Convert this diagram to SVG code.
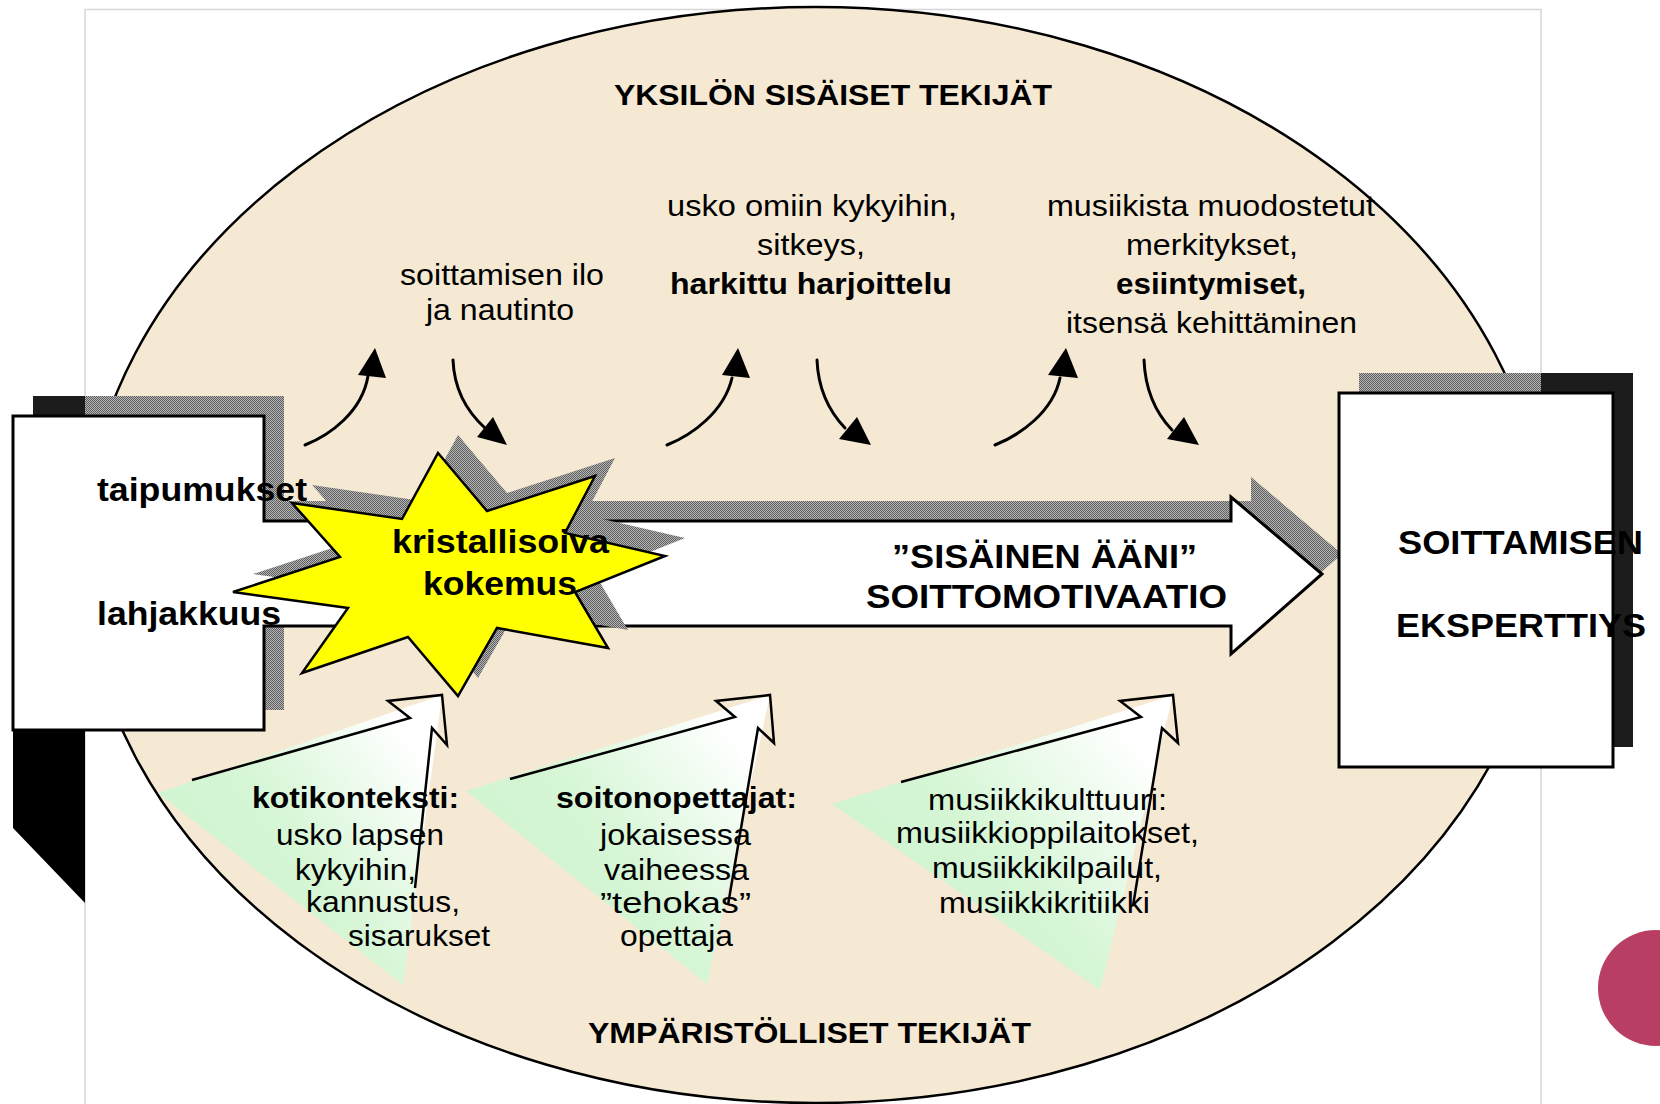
<svg xmlns="http://www.w3.org/2000/svg" width="1660" height="1104" viewBox="0 0 1660 1104">
<defs>
<style>
.t{font-family:"Liberation Sans",Arial,sans-serif;font-size:30px;fill:#000}
.b{font-weight:bold}
.m{font-size:33px}
.ln{fill:none;stroke:#000;stroke-width:3;stroke-linecap:round}
.hd{fill:#000}
.ol{fill:none;stroke:#000;stroke-width:2.5;stroke-linejoin:miter}
.sh{fill:url(#hatch)}
.dk{fill:#1c1c1c}
.wg{fill:url(#mint)}
</style>
<pattern id="hatch" width="2" height="2" patternUnits="userSpaceOnUse">
<rect width="2" height="2" fill="#b6b6b6"/>
<rect width="1" height="1" fill="#5e5e5e"/>
<rect x="1" y="1" width="1" height="1" fill="#5e5e5e"/>
</pattern>
<linearGradient id="mint" x1="0" y1="0.8" x2="1" y2="0.05">
<stop offset="0" stop-color="#cbf2cb"/>
<stop offset="0.45" stop-color="#d6f6d6"/>
<stop offset="0.88" stop-color="#ffffff"/>
</linearGradient>
<clipPath id="outL"><rect x="0" y="0" width="85" height="1104"/></clipPath>
<clipPath id="outR"><rect x="1541" y="0" width="119" height="1104"/></clipPath>
<polygon id="arrowShape" points="13,416 264,416 264,521 1231,521 1231,497 1322,574 1231,654 1231,626 264,626 264,730 13,730"/>
<polygon id="starShape" points="438,453 487,511 595,476 565,533 665,556 575,592 608,648 497,628 458,696 408,637 302,673 348,608 233,592 340,557 292,503 402,519"/>
</defs>

<rect width="1660" height="1104" fill="#fff"/>
<rect id="frame" x="85" y="9.5" width="1456" height="1100" fill="none" stroke="#d6d6d6" stroke-width="1.5"/>
<ellipse id="oval" cx="815" cy="555" rx="731" ry="548" fill="#f5e9d4" stroke="#000" stroke-width="2.5"/>

<g id="env-koti">
<polygon class="wg" points="158,793 442,695 403,985"/>
<polyline class="ol" points="192,780 410,718 388,701 442,695 447,745 432,728 415,888"/>
<text class="t b" x="252" y="808" textLength="207" lengthAdjust="spacingAndGlyphs">kotikonteksti:</text>
<text class="t" x="276" y="845" textLength="168" lengthAdjust="spacingAndGlyphs">usko lapsen</text>
<text class="t" x="295" y="880" textLength="121" lengthAdjust="spacingAndGlyphs">kykyihin,</text>
<text class="t" x="306" y="912" textLength="154" lengthAdjust="spacingAndGlyphs">kannustus,</text>
<text class="t" x="348" y="946" textLength="142" lengthAdjust="spacingAndGlyphs">sisarukset</text>
</g>

<g id="env-opettajat">
<polygon class="wg" points="466,791 770,695 707,984"/>
<polyline class="ol" points="510,779 735,717 716,701 770,695 774,743 758,728 728,905"/>
<text class="t b" x="556" y="808" textLength="241" lengthAdjust="spacingAndGlyphs">soitonopettajat:</text>
<text class="t" x="600" y="845" textLength="151" lengthAdjust="spacingAndGlyphs">jokaisessa</text>
<text class="t" x="604" y="880" textLength="145" lengthAdjust="spacingAndGlyphs">vaiheessa</text>
<text class="t" x="600" y="913" textLength="151" lengthAdjust="spacingAndGlyphs">”tehokas”</text>
<text class="t" x="620" y="946" textLength="113" lengthAdjust="spacingAndGlyphs">opettaja</text>
</g>

<g id="env-kulttuuri">
<polygon class="wg" points="832,804 1173,695 1100,990"/>
<polyline class="ol" points="901,782 1141,717 1120,701 1173,695 1178,743 1162,728 1133,906"/>
<text class="t" x="928" y="810" textLength="239" lengthAdjust="spacingAndGlyphs">musiikkikulttuuri:</text>
<text class="t" x="896" y="843" textLength="303" lengthAdjust="spacingAndGlyphs">musiikkioppilaitokset,</text>
<text class="t" x="932" y="878" textLength="230" lengthAdjust="spacingAndGlyphs">musiikkikilpailut,</text>
<text class="t" x="939" y="913" textLength="211" lengthAdjust="spacingAndGlyphs">musiikkikritiikki</text>
</g>

<g id="connectors">
<path class="ln" d="M305,445 C330,435 362,412 368,376"/>
<polygon class="hd" points="375,348 358,375 386,378"/>
<path class="ln" d="M453,360 C454,385 463,408 485,428"/>
<polygon class="hd" points="507,445 477,437 493,417"/>
<path class="ln" d="M667,445 C692,435 724,412 732,378"/>
<polygon class="hd" points="738,348 722,375 750,378"/>
<path class="ln" d="M817,360 C818,385 826,408 845,428"/>
<polygon class="hd" points="871,445 839,439 857,417"/>
<path class="ln" d="M995,445 C1020,435 1053,412 1060,378"/>
<polygon class="hd" points="1066,348 1048,375 1078,378"/>
<path class="ln" d="M1144,360 C1145,385 1153,410 1172,430"/>
<polygon class="hd" points="1199,445 1167,439 1184,417"/>
</g>

<g id="titles">
<text class="t b" x="614" y="105" textLength="438" lengthAdjust="spacingAndGlyphs">YKSILÖN SISÄISET TEKIJÄT</text>
<text class="t b" x="588" y="1043" textLength="443" lengthAdjust="spacingAndGlyphs">YMPÄRISTÖLLISET TEKIJÄT</text>
</g>

<g id="inner-1">
<text class="t" x="400" y="285" textLength="204" lengthAdjust="spacingAndGlyphs">soittamisen ilo</text>
<text class="t" x="426" y="320" textLength="148" lengthAdjust="spacingAndGlyphs">ja nautinto</text>
</g>
<g id="inner-2">
<text class="t" x="667" y="216" textLength="290" lengthAdjust="spacingAndGlyphs">usko omiin kykyihin,</text>
<text class="t" x="757" y="255" textLength="108" lengthAdjust="spacingAndGlyphs">sitkeys,</text>
<text class="t b" x="670" y="294" textLength="282" lengthAdjust="spacingAndGlyphs">harkittu harjoittelu</text>
</g>
<g id="inner-3">
<text class="t" x="1047" y="216" textLength="328" lengthAdjust="spacingAndGlyphs">musiikista muodostetut</text>
<text class="t" x="1126" y="255" textLength="172" lengthAdjust="spacingAndGlyphs">merkitykset,</text>
<text class="t b" x="1116" y="294" textLength="190" lengthAdjust="spacingAndGlyphs">esiintymiset,</text>
<text class="t" x="1066" y="333" textLength="291" lengthAdjust="spacingAndGlyphs">itsensä kehittäminen</text>
</g>

<g id="shadows">
<use href="#arrowShape" class="sh" transform="translate(20,-20)"/>
<g clip-path="url(#outL)"><use href="#arrowShape" class="dk" transform="translate(20,-20)"/></g>
<rect class="sh" x="1359" y="373" width="274" height="374"/>
<rect class="dk" x="1541" y="373" width="92" height="374"/>
<polygon fill="#000" points="13,730 85,730 85,903 13,828"/>
</g>

<g id="node-motivation">
<use href="#arrowShape" fill="#fff" stroke="#000" stroke-width="3" stroke-linejoin="miter"/>
<text class="t b" x="97" y="501" font-size="34" style="font-size:34px" textLength="210" lengthAdjust="spacingAndGlyphs">taipumukset</text>
<text class="t b" x="97" y="625" style="font-size:34px" textLength="184" lengthAdjust="spacingAndGlyphs">lahjakkuus</text>
<text class="t b m" x="892" y="568" textLength="305" lengthAdjust="spacingAndGlyphs">”SISÄINEN ÄÄNI”</text>
<text class="t b m" x="866" y="608" textLength="361" lengthAdjust="spacingAndGlyphs">SOITTOMOTIVAATIO</text>
</g>

<g id="node-star">
<use href="#starShape" class="sh" transform="translate(20,-18)"/>
<use href="#starShape" fill="#ffff00" stroke="#000" stroke-width="2.5" stroke-linejoin="miter"/>
<text class="t b" x="392" y="553" style="font-size:34px" textLength="217" lengthAdjust="spacingAndGlyphs">kristallisoiva</text>
<text class="t b" x="423" y="595" style="font-size:34px" textLength="154" lengthAdjust="spacingAndGlyphs">kokemus</text>
</g>

<g id="node-expertise">
<rect x="1339" y="393" width="274" height="374" fill="#fff" stroke="#000" stroke-width="3"/>
<text class="t b" x="1398" y="554" style="font-size:34px" textLength="245" lengthAdjust="spacingAndGlyphs">SOITTAMISEN</text>
<text class="t b" x="1396" y="637" style="font-size:34px" textLength="250" lengthAdjust="spacingAndGlyphs">EKSPERTTIYS</text>
</g>

<circle id="bullet" cx="1656" cy="988" r="58" fill="#b83e63"/>
</svg>
